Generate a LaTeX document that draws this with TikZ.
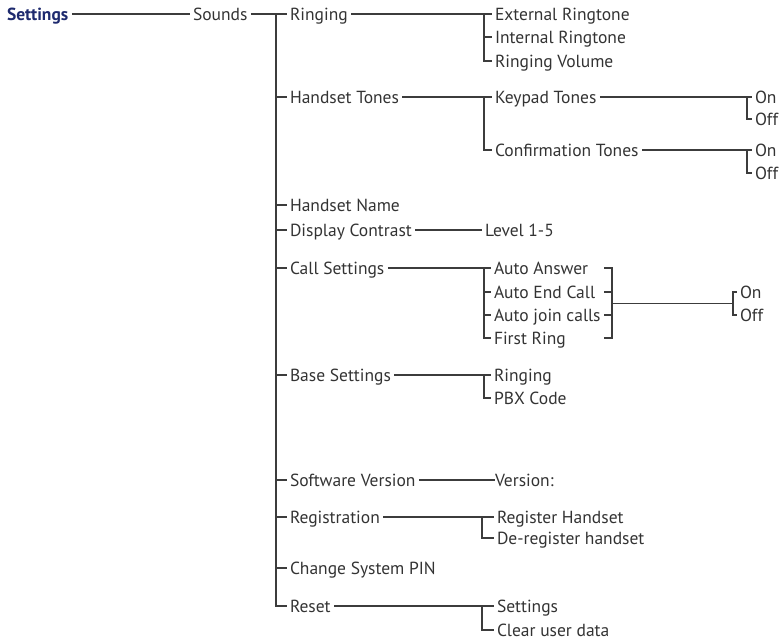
\documentclass[tikz,border=0pt]{standalone}
\usepackage{fontspec}
\setmainfont{PT Sans}
\usetikzlibrary{calc}
\definecolor{navy}{HTML}{1E2A6E}
\definecolor{txt}{HTML}{333333}
\definecolor{ln}{HTML}{3C3C3C}

\begin{document}
\begin{tikzpicture}[
		x=1pt, y=-1pt,
		font=\fontsize{17.5}{20}\selectfont,
		item/.style = {anchor=west, inner sep=0pt, outer sep=3.5pt, text height=12pt, text depth=0pt, text=txt},
		head/.style = {item, text=navy, font=\fontsize{17.5}{20}\selectfont\bfseries},
		link/.style = {draw=ln, line width=1.2pt},
	]
	\useasboundingbox (0,0) rectangle (782,641);
	% first level
	\node[head] (settings) at (3.5,14) {Settings};
	\node[item] (sounds) at (189.5,14) {Sounds};
	\coordinate (trunk) at (276,14);
	\node[item] (ringing)  at (286.5,14)  {Ringing};
	\node[item] (htones)   at (286.5,97)  {Handset Tones};
	\node[item] (hname)    at (286.5,205) {Handset Name};
	\node[item] (contrast) at (286.5,230) {Display Contrast};
	\node[item] (callset)  at (286.5,268) {Call Settings};
	\node[item] (baseset)  at (286.5,375) {Base Settings};
	\node[item] (swver)    at (286.5,480) {Software Version};
	\node[item] (regist)   at (286.5,517) {Registration};
	\node[item] (pin)      at (286.5,568) {Change System PIN};
	\node[item] (reset)    at (286.5,606) {Reset};
	% second level
	\node[item] (extring) at (491.5,14) {External Ringtone};
	\node[item] (intring) at (491.5,37) {Internal Ringtone};
	\node[item] (ringvol) at (491.5,61) {Ringing Volume};
	\node[item] (keypad)  at (491.5,97)  {Keypad Tones};
	\node[item] (confirm) at (491.5,150) {Confirmation Tones};
	\node[item] (level)   at (481.5,230) {Level 1-5};
	\node[item] (answer)   at (490.5,268) {Auto Answer};
	\node[item] (endcall)  at (490.5,292) {Auto End Call};
	\node[item] (joincall) at (490.5,315) {Auto join calls};
	\node[item] (firstrg)  at (490.5,338) {First Ring};
	\node[item] (basering) at (490.5,375) {Ringing};
	\node[item] (pbx)      at (490.5,398) {PBX Code};
	\node[item, outer sep=0pt] (version) at (495,480) {Version:};
	\node[item] (reghs)   at (493.5,517) {Register Handset};
	\node[item] (dereghs) at (493.5,538) {De-register handset};
	\node[item] (rsetting) at (493.5,606) {Settings};
	\node[item] (clear)    at (493.5,630) {Clear user data};
	% third level
	\node[item] (kpon)  at (751.5,97)  {On};
	\node[item] (kpoff) at (751.5,119) {Off};
	\node[item] (cfon)  at (751.5,150) {On};
	\node[item] (cfoff) at (751.5,173) {Off};
	\node[item] (cson)  at (736.5,292) {On};
	\node[item] (csoff) at (736.5,315) {Off};
	\coordinate (rgB) at (484,0);
	\coordinate (kpB) at (747,0);
	\coordinate (csR) at (612,0);
	\coordinate (ooB) at (733,0);
	\coordinate (rsB) at (482,0);

	\draw[link] (settings.east) -- (sounds.west);
	\draw[link] (sounds.east) -- (ringing.west -| trunk) |- (reset.west);
	\draw[link] (trunk) -- (ringing.west);
	\foreach \n in {htones, hname, contrast, callset, baseset, swver, regist, pin}
		\draw[link] (\n.west -| trunk) -- (\n.west);
	% brackets
	\draw[link] (ringing.east) -- (ringing.east -| rgB) |- (ringvol.west);
	\draw[link] (intring.west -| rgB) -- (intring.west);
	\draw[link] (ringing.east -| rgB) -- (extring.west);
	\draw[link] (htones.east) -- (keypad.west);
	\draw[link] (htones.east -| rgB) |- (confirm.west);
	\draw[link] (keypad.east) -- (kpon.west);
	\draw[link] (kpon.west -| kpB) |- (kpoff.west);
	\draw[link] (confirm.east) -- (cfon.west);
	\draw[link] (cfon.west -| kpB) |- (cfoff.west);
	\draw[link] (contrast.east) -- (level.west);
	\draw[link] (callset.east) -- (answer.west);
	\draw[link] (callset.east -| rgB) |- (firstrg.west);
	\foreach \n in {endcall, joincall}
		\draw[link] (\n.west -| rgB) -- (\n.west);
	\draw[link] ([xshift=-8pt]answer.west -| csR) -- (answer.west -| csR) -- (firstrg.west -| csR) -- ++(-8,0);
	\foreach \n in {endcall, joincall}
		\draw[link] ([xshift=-8pt]\n.west -| csR) -- (\n.west -| csR);
	\draw[link] ($(endcall.west -| csR)!0.5!(joincall.west -| csR)$) -- ($(cson.west -| ooB)!0.5!(csoff.west -| ooB)$);
	\draw[link] (cson.west) -| (csoff.west -| ooB) -- (csoff.west);
	\draw[link] (baseset.east) -- (basering.west);
	\draw[link] (baseset.east -| rgB) |- (pbx.west);
	\draw[link] (swver.east) -- (version.west);
	\draw[link] (regist.east) -- (reghs.west);
	\draw[link] (regist.east -| rsB) |- (dereghs.west);
	\draw[link] (reset.east) -- (rsetting.west);
	\draw[link] (reset.east -| rsB) |- (clear.west);
\end{tikzpicture}
\end{document}
